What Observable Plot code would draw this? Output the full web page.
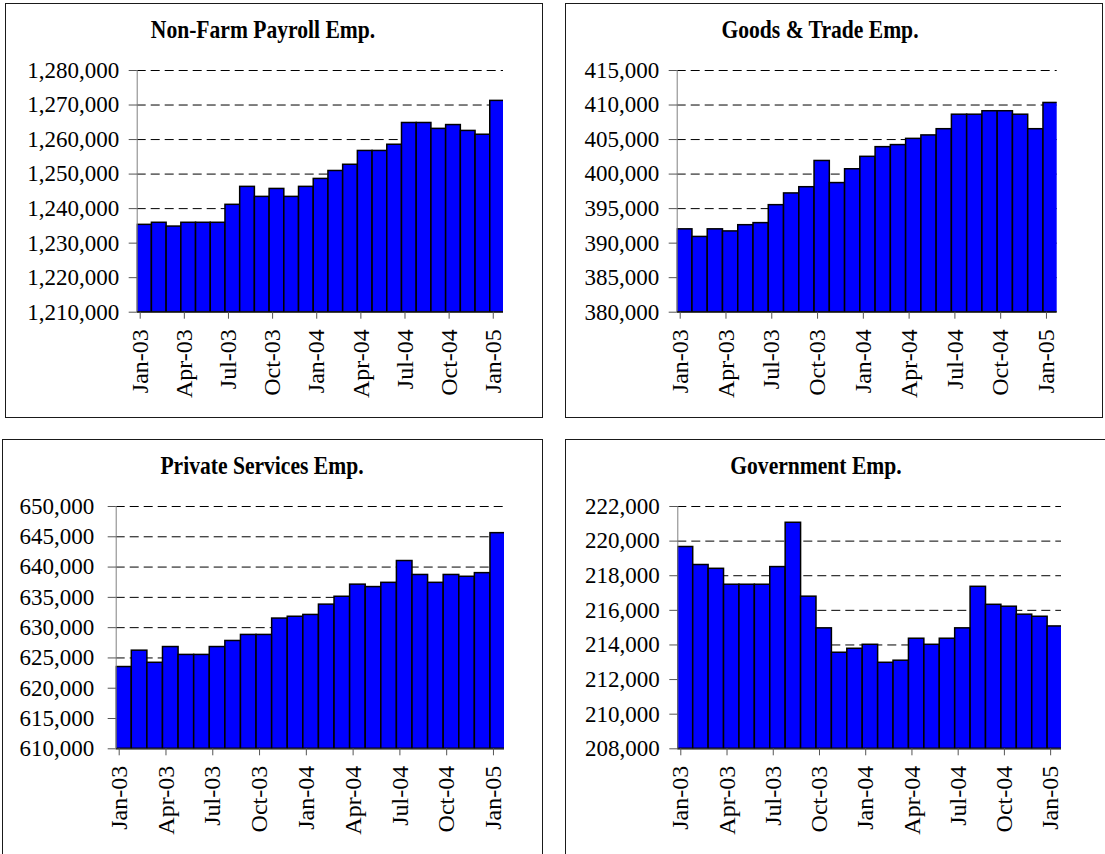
<!DOCTYPE html>
<html>
<head>
<meta charset="utf-8">
<script src="https://cdn.jsdelivr.net/npm/d3@7"></script>
<script src="https://cdn.jsdelivr.net/npm/@observablehq/plot@0.6"></script>
<style>
  html, body { margin: 0; padding: 0; background: #fff; }
  body { position: relative; width: 1105px; height: 854px; overflow: hidden;
         font-family: "Liberation Serif", "Times New Roman", serif; }
  .box { position: absolute; box-sizing: border-box; border: 1.5px solid #1a1a1a; background: #fff; }
  .title { position: absolute; font-weight: bold; font-size: 26px; white-space: nowrap;
           font-family: "Liberation Serif", "Times New Roman", serif;
           transform: translate(-50%, -50%) scaleX(0.83); line-height: 1; color: #000; }
  svg.chart, svg.chart text, svg.chart g { font-family: "Liberation Serif", "Times New Roman", serif !important;
           font-variant: normal !important; font-variant-numeric: normal !important; }
</style>
</head>
<body>
<script>
// ---- data ----
const months = ["Jan-03","Feb-03","Mar-03","Apr-03","May-03","Jun-03","Jul-03","Aug-03","Sep-03","Oct-03","Nov-03","Dec-03",
                "Jan-04","Feb-04","Mar-04","Apr-04","May-04","Jun-04","Jul-04","Aug-04","Sep-04","Oct-04","Nov-04","Dec-04","Jan-05"];
const quarterTicks = [0, 3, 6, 9, 12, 15, 18, 21, 24];

const titles = ["Non-Farm Payroll Emp.", "Goods & Trade Emp.", "Private Services Emp.", "Government Emp."];

const nonFarm = [1235300, 1235900, 1234800, 1235900, 1235900, 1235900, 1241100, 1246300, 1243400, 1245700, 1243400, 1246300,
                 1248600, 1250900, 1252700, 1256700, 1256700, 1258500, 1264800, 1264800, 1263100, 1264200, 1262500, 1261400, 1271200];
const goodsTrade = [392000, 390900, 392000, 391700, 392600, 392900, 395500, 397200, 398100, 401900, 398700, 400700,
                    402500, 403900, 404200, 405100, 405600, 406500, 408600, 408600, 409100, 409100, 408600, 406500, 410300];
const privateServices = [623500, 626200, 624200, 626800, 625500, 625500, 626800, 627800, 628800, 628800, 631500, 631800,
                         632100, 633800, 635100, 637100, 636700, 637400, 641000, 638700, 637400, 638700, 638400, 639000, 645600];
const government = [219660, 218620, 218400, 217480, 217480, 217480, 218500, 221060, 216790, 214960, 213550, 213780,
                    214010, 212970, 213090, 214360, 214010, 214360, 214960, 217360, 216320, 216210, 215750, 215630, 215070];

const yTicksNonFarm = [1210000, 1220000, 1230000, 1240000, 1250000, 1260000, 1270000, 1280000];
const yTicksGoods = [380000, 385000, 390000, 395000, 400000, 405000, 410000, 415000];
const yTicksPrivate = [610000, 615000, 620000, 625000, 630000, 635000, 640000, 645000, 650000];
const yTicksGov = [208000, 210000, 212000, 214000, 216000, 218000, 220000, 222000];

// ---- layout ----
const panels = [
  {title: titles[0], values: nonFarm, ticks: yTicksNonFarm,
   box: {left: 5, top: 3, width: 538, height: 415}, titleX: 263,
   m: {l: 131.7, r: 40, t: 67, b: 106.3}, pad: 10},
  {title: titles[1], values: goodsTrade, ticks: yTicksGoods,
   box: {left: 565, top: 3, width: 538, height: 415}, titleX: 820,
   m: {l: 111.7, r: 46.3, t: 67, b: 106.3}, pad: 10},
  {title: titles[2], values: privateServices, ticks: yTicksPrivate,
   box: {left: 2, top: 439, width: 541, height: 430}, titleX: 262,
   m: {l: 113.7, r: 39, t: 67, b: 105.7}, pad: 14},
  {title: titles[3], values: government, ticks: yTicksGov,
   box: {left: 565, top: 439, width: 560, height: 430}, titleX: 816,
   m: {l: 112.3, r: 44, t: 67, b: 105.7}, svgWidth: 540, pad: 10}
];

const fmt = d3.format(",");
const font = "Liberation Serif, Times New Roman, serif";

for (const p of panels) {
  const box = document.createElement("div");
  box.className = "box";
  Object.assign(box.style, {left: p.box.left + "px", top: p.box.top + "px",
    width: p.box.width + "px", height: p.box.height + "px"});
  document.body.appendChild(box);

  const t = document.createElement("div");
  t.className = "title";
  t.textContent = p.title;
  Object.assign(t.style, {left: p.titleX + "px", top: (p.box.top + 27) + "px"});
  document.body.appendChild(t);

  const yMin = p.ticks[0], yMax = p.ticks[p.ticks.length - 1];
  const data = p.values.map((v, i) => ({i, v}));
  const w = p.svgWidth || p.box.width;

  const chart = Plot.plot({
    width: w,
    height: 415,
    marginLeft: p.m.l, marginRight: p.m.r, marginTop: p.m.t, marginBottom: p.m.b,
    style: {background: "none", overflow: "visible", fontFamily: font, color: "black"},
    x: {type: "linear", domain: [0, 24.9], label: null},
    y: {domain: [yMin, yMax], label: null},
    marks: [
      Plot.ruleY(p.ticks.slice(1), {stroke: "black", strokeWidth: 1, strokeDasharray: "9,5"}),
      Plot.rect(data, {x1: "i", x2: d => d.i + 1, y1: yMin, y2: "v",
        fill: "#0000ff", stroke: "black", strokeWidth: 1.5, clip: true}),
      Plot.ruleX([0], {stroke: "#808080", strokeWidth: 1}),
      Plot.ruleY([yMin], {stroke: "black", strokeWidth: 1.2}),
      Plot.axisY({ticks: p.ticks, tickFormat: fmt, tickSize: 8, tickPadding: p.pad,
        fontSize: 23, fontFamily: font, fontVariant: "normal", label: null, stroke: "#555"}),
      Plot.axisX({ticks: quarterTicks, tickFormat: i => months[i], tickRotate: -90,
        tickSize: 7, tickPadding: 10, fontSize: 24, fontFamily: font, label: null, dx: 3, stroke: "#555"})
    ]
  });
  chart.classList.add("chart");
  Object.assign(chart.style, {left: p.box.left + "px", top: p.box.top + "px", position: "absolute"});
  document.body.appendChild(chart);
}
</script>
</body>
</html>
